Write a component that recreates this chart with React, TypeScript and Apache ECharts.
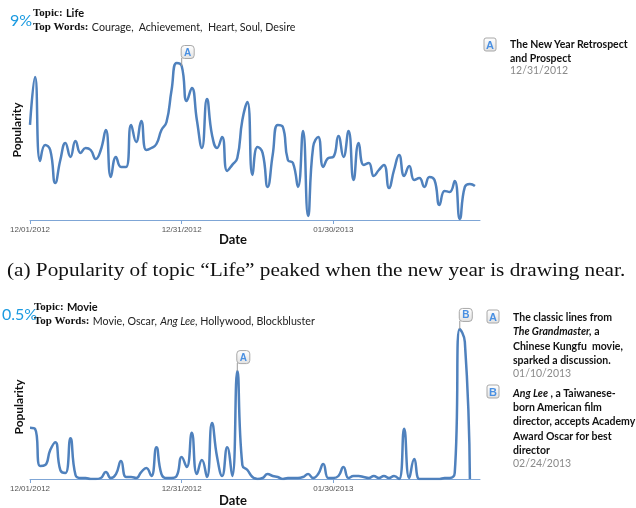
import React, { useEffect, useRef } from "react";
import * as echarts from "echarts";

// ---- data ----
const startDate = [2012, 11, 1]; // Dec 1 2012
const dayCount = 90;
const tickLabels = ["12/01/2012", "12/31/2012", "01/30/2013"];

const lifeValues = [
  4.28, 6.44, 2.66, 3.38, 3.15, 1.67, 2.7, 3.47, 2.84, 3.56,
  3.02, 3.24, 3.15, 2.75, 3.15, 4.05, 1.94, 2.84, 2.39, 2.39,
  4.28, 3.51, 4.46, 3.15, 3.24, 3.42, 4.05, 4.41, 5.85, 7.07,
  6.93, 5.36, 5.94, 4.5, 3.24, 5.45, 3.83, 3.24, 3.74, 2.21,
  2.48, 2.79, 4.5, 5.31, 2.03, 3.29, 3.02, 1.49, 2.93, 4.28,
  4.19, 2.7, 2.57, 1.49, 4.01, 0.18, 3.29, 3.74, 2.39, 2.79,
  2.84, 3.78, 2.84, 4.01, 1.8, 3.47, 2.48, 2.57, 1.98, 2.25,
  2.48, 1.44, 2.25, 2.93, 1.98, 2.43, 1.8, 1.89, 1.49, 1.94,
  1.8, 0.68, 1.31, 1.26, 1.76, 0.05, 1.49, 1.62, 1.53,
];

const movieValues = [
  0.154, 0.151, 0.039, 0.042, 0.087, 0.111, 0.027, 0.018, 0.123, 0.012,
  0.003, 0.003, 0.0, 0.0, 0.003, 0.021, 0.003, 0.015, 0.054, 0.006,
  0.006, 0.003, 0.021, 0.033, 0.009, 0.096, 0.015, 0.003, 0.003, 0.009,
  0.066, 0.036, 0.139, 0.015, 0.057, 0.006, 0.169, 0.066, 0.009, 0.096,
  0.009, 0.325, 0.042, 0.027, 0.006, 0.0, 0.003, 0.015, 0.009, 0.006,
  0.0, 0.003, 0.003, 0.003, 0.006, 0.015, 0.003, 0.015, 0.045, 0.003,
  0.003, 0.009, 0.036, 0.003, 0.009, 0.009, 0.006, 0.003, 0.009, 0.003,
  0.009, 0.003, 0.009, 0.0, 0.151, 0.003, 0.06, 0.0, 0.0, 0.0,
  0.0, 0.0, 0.003, 0.003, 0.018, 0.452, 0.413, 0.0,
];

const lifeMax = 9;
const movieMax = 0.5;
const lifeMarkers = [{ label: "A", index: 30 }];
const movieMarkers = [
  { label: "A", index: 41 },
  { label: "B", index: 85 },
];

const lifeLegend = {
  title: ["The New Year Retrospect", "and Prospect"],
  date: "12/31/2012",
};
const movieLegendA = {
  title: ["The classic lines from", "{i|The Grandmaster,} a", "Chinese Kungfu  movie,", "sparked a discussion."],
  date: "01/10/2013",
};
const movieLegendB = {
  title: ["{i|Ang Lee} , a Taiwanese-", "born American film", "director, accepts Academy", "Award Oscar for best", "director"],
  date: "02/24/2013",
};

function buildDates(): string[] {
  const out: string[] = [];
  for (let i = 0; i < dayCount; i++) {
    const d = new Date(startDate[0], startDate[1], startDate[2] + i);
    const mm = String(d.getMonth() + 1).padStart(2, "0");
    const dd = String(d.getDate()).padStart(2, "0");
    out.push(`${mm}/${dd}/${d.getFullYear()}`);
  }
  return out;
}

const LINE = "#4f81bd";
const AXIS = "#7fa6d6";
const SANS = "Lato";
const LEG_FS = 10.5;
const boxGradient = () =>
  new echarts.graphic.LinearGradient(0, 0, 0, 1, [
    { offset: 0, color: "#ffffff" },
    { offset: 1, color: "#e2e2e2" },
  ]);

function markerData(markers: { label: string; index: number }[], values: number[]) {
  const out: any[] = [];
  markers.forEach((m) => {
    const v = values[m.index];
    out.push({
      coord: [m.index, v],
      symbol: "rect",
      symbolSize: [1, 8],
      symbolOffset: [0, -4],
      itemStyle: { color: "#9a9a9a" },
      label: { show: false },
    });
    out.push({
      coord: [m.index, v],
      symbol: "roundRect",
      symbolSize: [13, 13],
      symbolOffset: [6, -14],
      itemStyle: { color: boxGradient(), borderColor: "#a8a8a8", borderWidth: 1 },
      label: {
        show: true,
        formatter: m.label,
        position: "inside",
        color: "#4a90e2",
        fontWeight: "bold",
        fontSize: 10,
        fontFamily: "Liberation Sans",
      },
    });
  });
  return out;
}

function legendBox(x: number, y: number, label: string) {
  return {
    type: "group",
    x,
    y,
    children: [
      {
        type: "rect",
        shape: { x: 0, y: 0, width: 12, height: 13, r: 2 },
        style: { fill: boxGradient(), stroke: "#a8a8a8", lineWidth: 1 },
      },
      {
        type: "text",
        x: 6,
        y: 7,
        style: {
          text: label,
          fill: "#4a90e2",
          fontWeight: "bold",
          fontSize: 11,
          fontFamily: "Liberation Sans",
          align: "center",
          verticalAlign: "middle",
        },
      },
    ],
  };
}

function legendText(x: number, y0: number, lh: number, lines: string[], date: string) {
  const els: any[] = [];
  lines.forEach((t, i) => {
    els.push({
      type: "text",
      x,
      y: y0 + i * lh,
      style: {
        text: t,
        fill: "#111",
        fontWeight: "bold",
        fontSize: LEG_FS,
        fontFamily: SANS,
        verticalAlign: "middle",
        rich: {
          i: { fontStyle: "italic", fontWeight: "bold", fontSize: LEG_FS, fontFamily: SANS, fill: "#111" },
        },
      },
    });
  });
  els.push({
    type: "text",
    x,
    y: y0 + lines.length * lh - 1,
    style: {
      text: date,
      fill: "#8a8a8a",
      fontSize: LEG_FS,
      fontFamily: SANS,
      verticalAlign: "middle",
    },
  });
  return els;
}

function header(pct: string, pctX: number, y1: number, topic: string, words: string) {
  const tx = pctX + (pct.length > 2 ? 32 : 23);
  return [
    {
      type: "text",
      x: pctX,
      y: y1 + 7,
      style: {
        text: pct,
        fill: "#1b9ae0",
        fontSize: 16,
        fontFamily: SANS,
        verticalAlign: "middle",
      },
    },
    {
      type: "text",
      x: tx,
      y: y1,
      style: {
        text: `{b|Topic:} {s|${topic}}`,
        verticalAlign: "middle",
        rich: {
          b: { fontFamily: "Liberation Serif", fontWeight: "bold", fontSize: 11, fill: "#111" },
          s: { fontFamily: SANS, fontWeight: "bold", fontSize: 11, fill: "#111" },
        },
      },
    },
    {
      type: "text",
      x: tx,
      y: y1 + 14,
      style: {
        text: words,
        verticalAlign: "middle",
        rich: {
          b: { fontFamily: "Liberation Serif", fontWeight: "bold", fontSize: 11, fill: "#111" },
          n: { fontFamily: SANS, fontSize: 10.7, fill: "#222" },
          i: { fontFamily: SANS, fontStyle: "italic", fontSize: 10.7, fill: "#222" },
        },
      },
    },
  ];
}

export default function App() {
  const ref = useRef<HTMLDivElement>(null);
  useEffect(() => {
    if (!ref.current) return;
    const chart = echarts.init(ref.current, undefined, { renderer: "svg" });
    const dates = buildDates();

    const xAxisBase = (gridIndex: number) => ({
      type: "category",
      gridIndex,
      data: dates,
      boundaryGap: false,
      axisLine: { lineStyle: { color: AXIS, width: 1 } },
      axisTick: { show: true, interval: (i: number) => tickLabels.includes(dates[i]), length: 4, lineStyle: { color: AXIS } },
      axisLabel: {
        interval: (i: number) => tickLabels.includes(dates[i]),
        color: "#555",
        fontSize: 8,
        fontFamily: "Liberation Sans",
        margin: 5,
      },
      splitLine: { show: false },
    });

    chart.setOption({
      animation: false,
      grid: [
        { left: 30, right: 156, top: 20, bottom: 288 },
        { left: 30, right: 156, top: 313, bottom: 29 },
      ],
      xAxis: [xAxisBase(0), xAxisBase(1)],
      yAxis: [
        { type: "value", gridIndex: 0, min: 0, max: lifeMax, show: false, splitLine: { show: false } },
        { type: "value", gridIndex: 1, min: 0, max: movieMax, show: false, splitLine: { show: false } },
      ],
      series: [
        {
          type: "line",
          xAxisIndex: 0,
          yAxisIndex: 0,
          data: lifeValues,
          smooth: 0.5,
          showSymbol: false,
          lineStyle: { color: LINE, width: 2.5 },
          markPoint: { data: markerData(lifeMarkers, lifeValues) },
        },
        {
          type: "line",
          xAxisIndex: 1,
          yAxisIndex: 1,
          data: movieValues,
          smooth: 0.5,
          showSymbol: false,
          lineStyle: { color: LINE, width: 2.5 },
          markPoint: { data: markerData(movieMarkers, movieValues) },
        },
      ],
      graphic: [
        ...header("9%", 10, 12, "Life", "{b|Top Words:} {n|Courage,  Achievement,  Heart, Soul, Desire}"),
        ...header("0.5%", 2, 306, "Movie", "{b|Top Words:} {n|Movie, Oscar,} {i|Ang Lee}{n|, Hollywood, Blockbluster}"),
        {
          type: "text",
          x: 16,
          y: 130,
          rotation: Math.PI / 2,
          style: { text: "Popularity", fontFamily: SANS, fontWeight: "bold", fontSize: 12, fill: "#111", align: "center", verticalAlign: "middle" },
        },
        {
          type: "text",
          x: 18,
          y: 407,
          rotation: Math.PI / 2,
          style: { text: "Popularity", fontFamily: SANS, fontWeight: "bold", fontSize: 12, fill: "#111", align: "center", verticalAlign: "middle" },
        },
        {
          type: "text",
          x: 233,
          y: 239,
          style: { text: "Date", fontFamily: SANS, fontWeight: "bold", fontSize: 13, fill: "#111", align: "center", verticalAlign: "middle" },
        },
        {
          type: "text",
          x: 233,
          y: 500,
          style: { text: "Date", fontFamily: SANS, fontWeight: "bold", fontSize: 13, fill: "#111", align: "center", verticalAlign: "middle" },
        },
        {
          type: "text",
          x: 7,
          y: 270,
          scaleX: 1.18,
          style: {
            text: "(a) Popularity of topic \u201cLife\u201d peaked when the new year is drawing near.",
            fontFamily: "Liberation Serif",
            fontSize: 18,
            fill: "#111",
            verticalAlign: "middle",
          },
        },
        legendBox(484, 38, "A"),
        ...legendText(510, 44, 13.5, lifeLegend.title, lifeLegend.date),
        legendBox(487, 310, "A"),
        ...legendText(513, 317, 14.3, movieLegendA.title, movieLegendA.date),
        legendBox(487, 385, "B"),
        ...legendText(513, 393, 14.2, movieLegendB.title, movieLegendB.date),
      ],
    });
    return () => chart.dispose();
  }, []);
  return <div ref={ref} style={{ position: "fixed", left: 0, top: 0, width: 636, height: 508 }} />;
}
